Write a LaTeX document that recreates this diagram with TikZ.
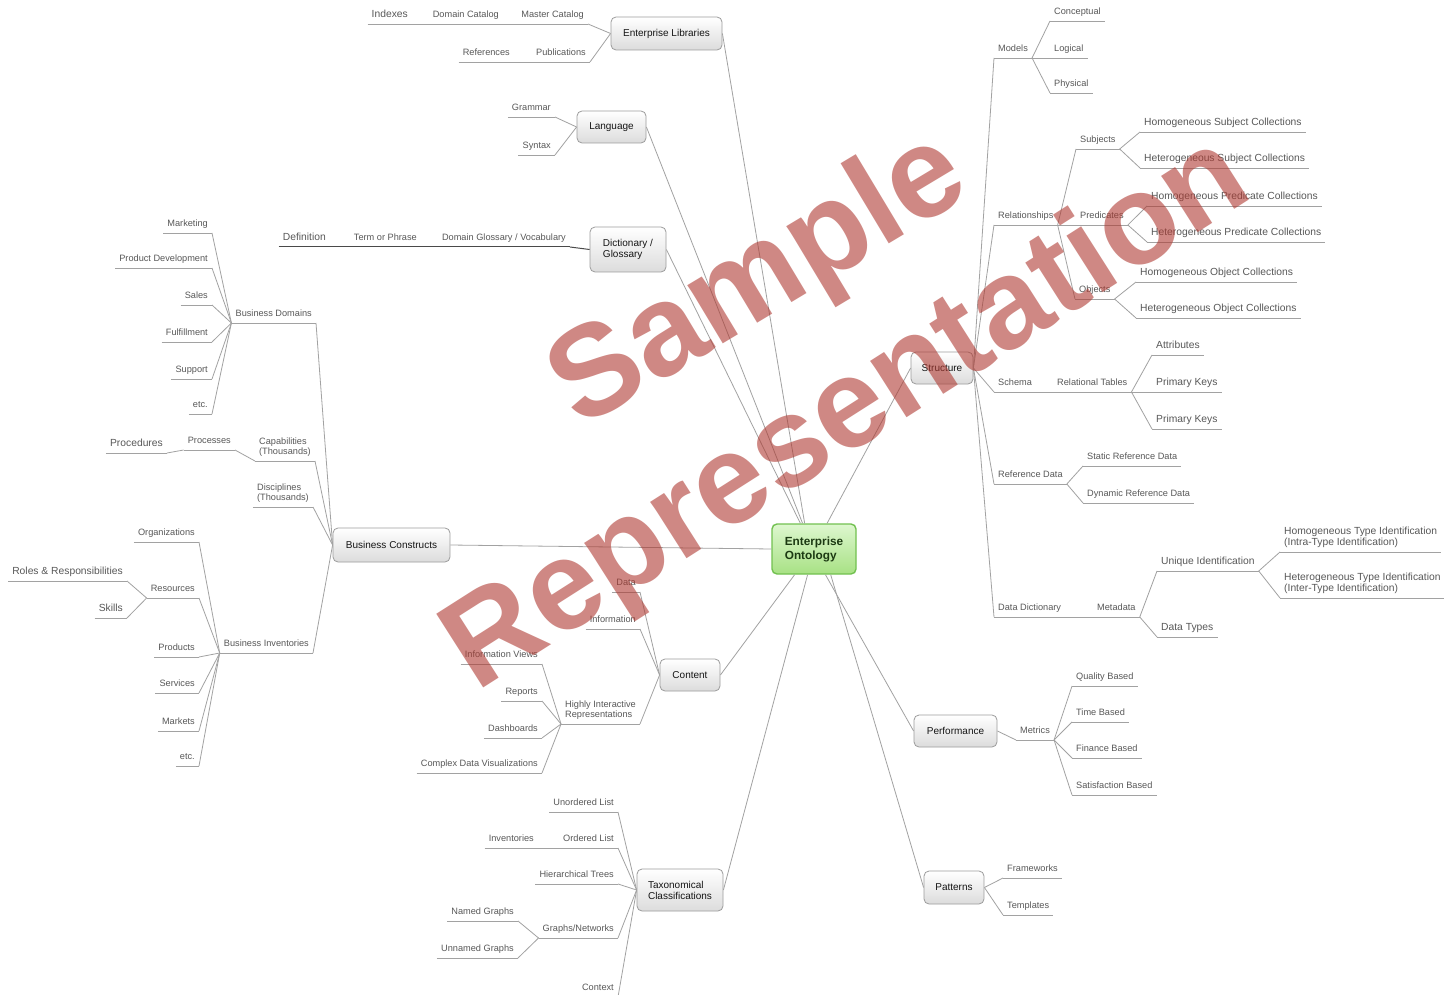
\documentclass[tikz,border=0pt]{standalone}
\usepackage{fontspec}
\setmainfont{Liberation Sans}
\definecolor{leafc}{HTML}{585858}
\definecolor{linec}{HTML}{A2A2A2}
\definecolor{darkc}{HTML}{4A4A4A}
\definecolor{boxd}{HTML}{9C9C9C}
\definecolor{boxbot}{HTML}{DCDCDC}
\definecolor{boxtxt}{HTML}{151515}
\definecolor{gtop}{HTML}{DDF7CF}
\definecolor{gbot}{HTML}{A8E184}
\definecolor{gbd}{HTML}{72C150}
\definecolor{gtx}{HTML}{1C3A12}
\definecolor{wmc}{HTML}{AF3A32}
\newcommand\fsm{\fontsize{9.2}{10.3}\selectfont}
\newcommand\flg{\fontsize{10.3}{11}\selectfont}
\newcommand\fbx{\fontsize{10}{11}\selectfont}
\newcommand\fct{\fontsize{11.8}{14}\selectfont\bfseries}
\tikzset{
 lf/.style={font=\fsm, text=leafc, inner xsep=4pt, inner ysep=6pt, text depth=0pt},
 lg/.style={lf, font=\flg},
 ml/.style={align=left, text depth=, inner ysep=4pt},
 rs/.style={anchor=south west},
 ls/.style={anchor=south east},
 ul/.style={draw=linec, line width=0.8pt},
 cn/.style={draw=linec, line width=0.8pt},
 dk/.style={draw=darkc, line width=1pt},
 bx/.style={draw=boxd, line width=0.8pt, rounded corners=5pt, top color=white, bottom color=boxbot, font=\fbx, text=boxtxt, inner sep=0pt},
 ctr/.style={draw=gbd, line width=1.4pt, rounded corners=5pt, top color=gtop, bottom color=gbot, font=\fct, text=gtx, align=left, inner sep=0pt, minimum width=84pt, minimum height=50pt},
 wmk/.style={text=wmc, inner sep=0pt, opacity=0.6}
}
\begin{document}
\begin{tikzpicture}[x=1pt,y=-1pt]
\useasboundingbox[fill=white] (0,0) rectangle (1444,995);
% ---------- top left
\node[bx, minimum width=111pt, minimum height=33pt] (entlib) at (666.5,33.5) {Enterprise Libraries};
\node[lf, ls] (masterc) at (588,24) {Master Catalog};
\node[lf, ls] (domcat) at (503,24) {Domain Catalog};
\node[lg, ls] (indexes) at (412,24) {Indexes};
\node[lf, ls] (pubs) at (590,62) {Publications};
\node[lf, ls] (refs) at (514,62) {References};
\node[bx, minimum width=69pt, minimum height=32pt] (lang) at (611.5,127) {Language};
\node[lf, ls] (grammar) at (555,117) {Grammar};
\node[lf, ls] (syntax) at (555,155) {Syntax};
\node[bx, align=left, minimum width=76pt, minimum height=45pt] (dict) at (628,249.5) {Dictionary /\\Glossary};
\node[lf, ls] (dgv) at (570,247) {Domain Glossary / Vocabulary};
\node[lf, ls] (term) at (421,247) {Term or Phrase};
\node[lg, ls] (defn) at (330,247) {Definition};
% ---------- business constructs
\node[bx, minimum width=117pt, minimum height=34pt] (buscon) at (391.5,545) {Business Constructs};
\node[lf, ls] (bdom) at (316,323) {Business Domains};
\node[lf, ls] (mkt) at (212,233) {Marketing};
\node[lf, ls] (pdev) at (212,268) {Product Development};
\node[lf, ls] (sales) at (212,305) {Sales};
\node[lf, ls] (fulf) at (212,342) {Fulfillment};
\node[lf, ls] (supp) at (212,379) {Support};
\node[lf, ls] (etca) at (212,414) {etc.};
\node[lf, ml, ls] (capab) at (315,461) {Capabilities\\(Thousands)};
\node[lf, ls] (procs) at (235,450) {Processes};
\node[lg, ls] (procd) at (167,453) {Procedures};
\node[lf, ml, ls] (discp) at (313,507) {Disciplines\\(Thousands)};
\node[lf, ls] (binv) at (313,653) {Business Inventories};
\node[lf, ls] (orgs) at (199,542) {Organizations};
\node[lf, ls] (resrc) at (199,598) {Resources};
\node[lg, ls] (roles) at (127,581) {Roles \& Responsibilities};
\node[lg, ls] (skills) at (127,618) {Skills};
\node[lf, ls] (prods) at (199,657) {Products};
\node[lf, ls] (servs) at (199,693) {Services};
\node[lf, ls] (mrkts) at (199,731) {Markets};
\node[lf, ls] (etcb) at (199,766) {etc.};
% ---------- content
\node[bx, minimum width=60pt, minimum height=32pt] (content) at (690,675) {Content};
\node[lf, ls] (data) at (640,592) {Data};
\node[lf, ls] (info) at (640,629) {Information};
\node[lf, ml, ls] (hir) at (640,724) {Highly Interactive\\Representations};
\node[lf, ls] (iview) at (542,664) {Information Views};
\node[lf, ls] (reports) at (542,701) {Reports};
\node[lf, ls] (dashb) at (542,738) {Dashboards};
\node[lf, ls] (cdv) at (542,773) {Complex Data Visualizations};
% ---------- taxonomy
\node[bx, align=left, minimum width=86pt, minimum height=42pt] (taxo) at (680,890) {Taxonomical\\Classifications};
\node[lf, ls] (unord) at (618,812) {Unordered List};
\node[lf, ls] (ordl) at (618,848) {Ordered List};
\node[lf, ls] (invent) at (538,848) {Inventories};
\node[lf, ls] (hier) at (618,884) {Hierarchical Trees};
\node[lf, ls] (graphs) at (618,938) {Graphs/Networks};
\node[lf, ls] (named) at (518,921) {Named Graphs};
\node[lf, ls] (unnamed) at (518,958) {Unnamed Graphs};
\node[lf, ls] (context) at (618,997) {Context};
% ---------- structure
\node[bx, minimum width=62pt, minimum height=32pt] (struct) at (942,368) {Structure};
\node[lf, rs] (models) at (994,58) {Models};
\node[lf, rs] (concept) at (1050,21) {Conceptual};
\node[lf, rs] (logical) at (1050,58) {Logical};
\node[lf, rs] (physical) at (1050,93) {Physical};
\node[lf, rs] (rel) at (994,225) {Relationships};
\node[lf, rs] (subj) at (1076,149) {Subjects};
\node[lf, rs] (pred) at (1076,225) {Predicates};
\node[lf, rs] (obj) at (1075,299) {Objects};
\node[lg, rs] (homsub) at (1140,132) {Homogeneous Subject Collections};
\node[lg, rs] (hetsub) at (1140,168) {Heterogeneous Subject Collections};
\node[lg, rs] (hompred) at (1147,206) {Homogeneous Predicate Collections};
\node[lg, rs] (hetpred) at (1147,242) {Heterogeneous Predicate Collections};
\node[lg, rs] (homobj) at (1136,282) {Homogeneous Object Collections};
\node[lg, rs] (hetobj) at (1136,318) {Heterogeneous Object Collections};
\node[lf, rs] (schema) at (994,392) {Schema};
\node[lf, rs] (reltab) at (1053,392) {Relational Tables};
\node[lg, rs] (attr) at (1152,355) {Attributes};
\node[lg, rs] (pkeya) at (1152,392) {Primary Keys};
\node[lg, rs] (pkeyb) at (1152,429) {Primary Keys};
\node[lf, rs] (refdata) at (994,484) {Reference Data};
\node[lf, rs] (statref) at (1083,466) {Static Reference Data};
\node[lf, rs] (dynref) at (1083,503) {Dynamic Reference Data};
\node[lf, rs] (datadict) at (994,617) {Data Dictionary};
\node[lf, rs] (metadata) at (1093,617) {Metadata};
\node[lg, rs] (uniq) at (1157,571) {Unique Identification};
\node[lg, rs] (dtypes) at (1157,637) {Data Types};
\node[lg, ml, rs] (homtype) at (1280,552) {Homogeneous Type Identification\\(Intra-Type Identification)};
\node[lg, ml, rs] (hettype) at (1280,598) {Heterogeneous Type Identification\\(Inter-Type Identification)};
% ---------- performance
\node[bx, minimum width=83pt, minimum height=32pt] (perf) at (955.5,731) {Performance};
\node[lf, rs] (metrics) at (1016,740) {Metrics};
\node[lf, rs] (quality) at (1072,686) {Quality Based};
\node[lf, rs] (timeb) at (1072,722) {Time Based};
\node[lf, rs] (finance) at (1072,758) {Finance Based};
\node[lf, rs] (satisf) at (1072,795) {Satisfaction Based};
% ---------- patterns
\node[bx, minimum width=60pt, minimum height=33pt] (patterns) at (954,887.5) {Patterns};
\node[lf, rs] (frameworks) at (1003,878) {Frameworks};
\node[lf, rs] (templates) at (1003,915) {Templates};
% ---------- core
\node[ctr] (core) at (814,549) {Enterprise\\Ontology};
% ---------- underlines
\foreach \n in {masterc,domcat,indexes,pubs,refs,grammar,syntax,
  bdom,mkt,pdev,sales,fulf,supp,etca,capab,procs,procd,discp,binv,orgs,resrc,roles,skills,prods,servs,mrkts,etcb,
  data,info,hir,iview,reports,dashb,cdv,
  unord,ordl,invent,hier,graphs,named,unnamed,context,
  models,concept,logical,physical,rel,subj,pred,obj,homsub,hetsub,hompred,hetpred,homobj,hetobj,
  schema,reltab,attr,pkeya,pkeyb,refdata,statref,dynref,datadict,metadata,uniq,dtypes,homtype,hettype,
  metrics,quality,timeb,finance,satisf,frameworks,templates}
  \draw[ul] (\n.south west) -- (\n.south east);
\foreach \n in {dgv,term,defn} \draw[dk] (\n.south west) -- (\n.south east);
% ---------- connectors
\draw[cn] (entlib.west) -- (masterc.south east);
\draw[cn] (entlib.west) -- (pubs.south east);
\draw[cn] (masterc.south west) -- (domcat.south east);
\draw[cn] (domcat.south west) -- (indexes.south east);
\draw[cn] (pubs.south west) -- (refs.south east);
\draw[cn] (lang.west) -- (grammar.south east);
\draw[cn] (lang.west) -- (syntax.south east);
\draw[dk] (dict.west) -- (dgv.south east);
\draw[dk] (dgv.south west) -- (term.south east);
\draw[dk] (term.south west) -- (defn.south east);
\foreach \n in {bdom,capab,discp,binv} \draw[cn] (buscon.west) -- (\n.south east);
\foreach \n in {mkt,pdev,sales,fulf,supp,etca} \draw[cn] (bdom.south west) -- (\n.south east);
\draw[cn] (capab.south west) -- (procs.south east);
\draw[cn] (procs.south west) -- (procd.south east);
\foreach \n in {orgs,resrc,prods,servs,mrkts,etcb} \draw[cn] (binv.south west) -- (\n.south east);
\foreach \n in {roles,skills} \draw[cn] (resrc.south west) -- (\n.south east);
\foreach \n in {data,info,hir} \draw[cn] (content.west) -- (\n.south east);
\foreach \n in {iview,reports,dashb,cdv} \draw[cn] (hir.south west) -- (\n.south east);
\foreach \n in {unord,ordl,hier,graphs,context} \draw[cn] (taxo.west) -- (\n.south east);
\draw[cn] (ordl.south west) -- (invent.south east);
\foreach \n in {named,unnamed} \draw[cn] (graphs.south west) -- (\n.south east);
\foreach \n in {models,rel,schema,refdata,datadict} \draw[cn] (struct.east) -- (\n.south west);
\foreach \n in {concept,logical,physical} \draw[cn] (models.south east) -- (\n.south west);
\foreach \n in {subj,pred,obj} \draw[cn] (rel.south east) -- (\n.south west);
\foreach \n in {homsub,hetsub} \draw[cn] (subj.south east) -- (\n.south west);
\foreach \n in {hompred,hetpred} \draw[cn] (pred.south east) -- (\n.south west);
\foreach \n in {homobj,hetobj} \draw[cn] (obj.south east) -- (\n.south west);
\draw[cn] (schema.south east) -- (reltab.south west);
\foreach \n in {attr,pkeya,pkeyb} \draw[cn] (reltab.south east) -- (\n.south west);
\foreach \n in {statref,dynref} \draw[cn] (refdata.south east) -- (\n.south west);
\draw[cn] (datadict.south east) -- (metadata.south west);
\foreach \n in {uniq,dtypes} \draw[cn] (metadata.south east) -- (\n.south west);
\foreach \n in {homtype,hettype} \draw[cn] (uniq.south east) -- (\n.south west);
\draw[cn] (perf.east) -- (metrics.south west);
\foreach \n in {quality,timeb,finance,satisf} \draw[cn] (metrics.south east) -- (\n.south west);
\foreach \n in {frameworks,templates} \draw[cn] (patterns.east) -- (\n.south west);
% core links
\draw[cn] (core.west) -- (buscon.east);
\draw[cn] (core.110) -- (entlib.east);
\draw[cn] (core.114) -- (lang.east);
\draw[cn] (core.118) -- (dict.east);
\draw[cn] (core.63) -- (struct.west);
\draw[cn] (core.-127) -- (content.east);
\draw[cn] (core.-104) -- (taxo.east);
\draw[cn] (core.-66) -- (perf.west);
\draw[cn] (core.-57) -- (patterns.west);
% ---------- watermark
\node[wmk, rotate=31, font=\fontsize{129}{129}\selectfont\bfseries] (wma) at (760,283) {Sample};
\node[wmk, rotate=32.5, font=\fontsize{127}{127}\selectfont\bfseries] (wmb) at (849,416) {Representation};
\end{tikzpicture}
\end{document}
